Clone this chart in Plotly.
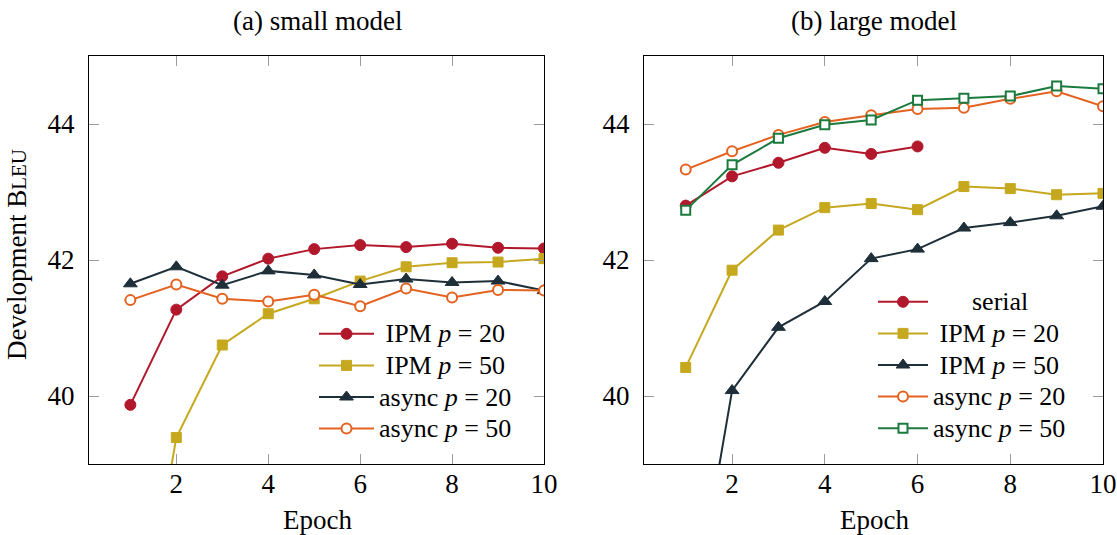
import plotly.graph_objects as go

epochs = [1, 2, 3, 4, 5, 6, 7, 8, 9, 10]

# (a) small model
small_ipm20 = [39.87, 41.27, 41.76, 42.02, 42.16, 42.22, 42.19, 42.24, 42.18, 42.17]
small_ipm50 = [35.5, 39.39, 40.75, 41.21, 41.43, 41.69, 41.90, 41.96, 41.97, 42.02]
small_async20 = [41.65, 41.90, 41.63, 41.84, 41.78, 41.64, 41.72, 41.67, 41.69, 41.55]
small_async50 = [41.41, 41.64, 41.43, 41.39, 41.49, 41.32, 41.58, 41.45, 41.56, 41.55]

# (b) large model
large_serial = [42.80, 43.23, 43.43, 43.65, 43.56, 43.67]
large_ipm20 = [40.42, 41.85, 42.44, 42.77, 42.83, 42.74, 43.08, 43.05, 42.96, 42.98]
large_ipm50 = [36.1, 40.08, 41.01, 41.39, 42.02, 42.16, 42.47, 42.55, 42.65, 42.79]
large_async20 = [43.33, 43.60, 43.84, 44.03, 44.13, 44.22, 44.24, 44.37, 44.48, 44.26]
large_async50 = [42.73, 43.40, 43.79, 43.99, 44.06, 44.35, 44.38, 44.41, 44.56, 44.52]

x_ticks = [2, 4, 6, 8, 10]
y_ticks = [40, 42, 44]

RED = "#B2182B"
YEL = "#C6A81F"
DARK = "#1E2F3A"
ORA = "#E4621F"
GRN = "#1B7A3E"

FONT = "Liberation Serif, Times New Roman, serif"
FS = 27
LFS = 22  # legend row spacing
LTXT = 26  # legend text size
NB = "\u00a0"

fig = go.Figure()


def lab(s):
    return f"<span style='font-size:{LTXT}px'>{s}</span>"


def add(x, y, name, color, symbol, size, xa, ya, legend, open_=False):
    fig.add_trace(go.Scatter(
        x=x, y=y, name=lab(name), mode="lines+markers",
        line=dict(color=color, width=2),
        marker=dict(color="white" if open_ else color, symbol=symbol, size=size,
                    line=dict(color=color, width=2 if open_ else 1)),
        xaxis=xa, yaxis=ya, legend=legend,
    ))


p = "<i>p</i>"
add(epochs, small_ipm20, f"{NB}IPM {p} = 20", RED, "circle", 11, "x", "y", "legend")
add(epochs, small_ipm50, f"{NB}IPM {p} = 50", YEL, "square", 10, "x", "y", "legend")
add(epochs, small_async20, f"async {p} = 20", DARK, "triangle-up", 12, "x", "y", "legend")
add(epochs, small_async50, f"async {p} = 50", ORA, "circle", 10, "x", "y", "legend", open_=True)

add(epochs[:len(large_serial)], large_serial, NB * 6 + "serial", RED, "circle", 11, "x2", "y2", "legend2")
add(epochs, large_ipm20, f"{NB}IPM {p} = 20", YEL, "square", 10, "x2", "y2", "legend2")
add(epochs, large_ipm50, f"{NB}IPM {p} = 50", DARK, "triangle-up", 12, "x2", "y2", "legend2")
add(epochs, large_async20, f"async {p} = 20", ORA, "circle", 10, "x2", "y2", "legend2", open_=True)
add(epochs, large_async50, f"async {p} = 50", GRN, "square", 9, "x2", "y2", "legend2", open_=True)

# plot area: x 89..1103, y 56..464
L, R, T, B = 89, 14, 56, 71
W, H = 1117, 535
PW, PH = W - L - R, H - T - B


def px(xp):
    return (xp - L) / PW


def py(yp):
    return (H - B - yp) / PH


axis_common = dict(
    showline=True, linecolor="black", linewidth=1.3, mirror="ticks",
    ticks="inside", ticklen=10, tickwidth=1, tickcolor="#9a9a9a",
    showgrid=False, zeroline=False,
    tickfont=dict(family=FONT, size=FS, color="black"),
)

fig.update_layout(
    width=W, height=H,
    margin=dict(l=L, r=R, t=T, b=B, autoexpand=False),
    paper_bgcolor="white", plot_bgcolor="white",
    font=dict(family=FONT, size=FS, color="black"),
    xaxis=dict(domain=[0, px(544)], range=[0.1, 10], tickvals=x_ticks, anchor="y",
               ticklabelstandoff=-5, **axis_common),
    yaxis=dict(domain=[0, 1], range=[39, 45], tickvals=y_ticks, anchor="x",
               ticklabelstandoff=8, **axis_common),
    xaxis2=dict(domain=[px(644), 1], range=[0.1, 10], tickvals=x_ticks, anchor="y2",
                ticklabelstandoff=-5, **axis_common),
    yaxis2=dict(domain=[0, 1], range=[39, 45], tickvals=y_ticks, anchor="x2",
                ticklabelstandoff=8, **axis_common),
    legend=dict(x=px(314), y=py(313), xanchor="left", yanchor="top",
                bgcolor="rgba(0,0,0,0)", borderwidth=0, itemwidth=55,
                font=dict(family=FONT, size=LFS, color="black")),
    legend2=dict(x=px(873), y=py(281), xanchor="left", yanchor="top",
                 bgcolor="rgba(0,0,0,0)", borderwidth=0, itemwidth=50,
                 font=dict(family=FONT, size=LFS, color="black")),
    showlegend=True,
)

ann = dict(xref="paper", yref="paper", showarrow=False,
           font=dict(family=FONT, size=FS, color="black"))
fig.add_annotation(text="(a) small model", x=px(317), y=py(21), xanchor="center", yanchor="middle", **ann)
fig.add_annotation(text="(b) large model", x=px(874), y=py(21), xanchor="center", yanchor="middle", **ann)
fig.add_annotation(text="Epoch", x=px(317), y=py(520), xanchor="center", yanchor="middle", **ann)
fig.add_annotation(text="Epoch", x=px(874), y=py(520), xanchor="center", yanchor="middle", **ann)
fig.add_annotation(text="Development B<span style='font-size:21px'>LEU</span>",
                   x=px(17), y=py(255), xanchor="center", yanchor="middle", textangle=-90, **ann)

fig.write_html("out.html", config={"displayModeBar": False},
               post_script="document.body.style.margin='0';document.body.style.padding='0';")
